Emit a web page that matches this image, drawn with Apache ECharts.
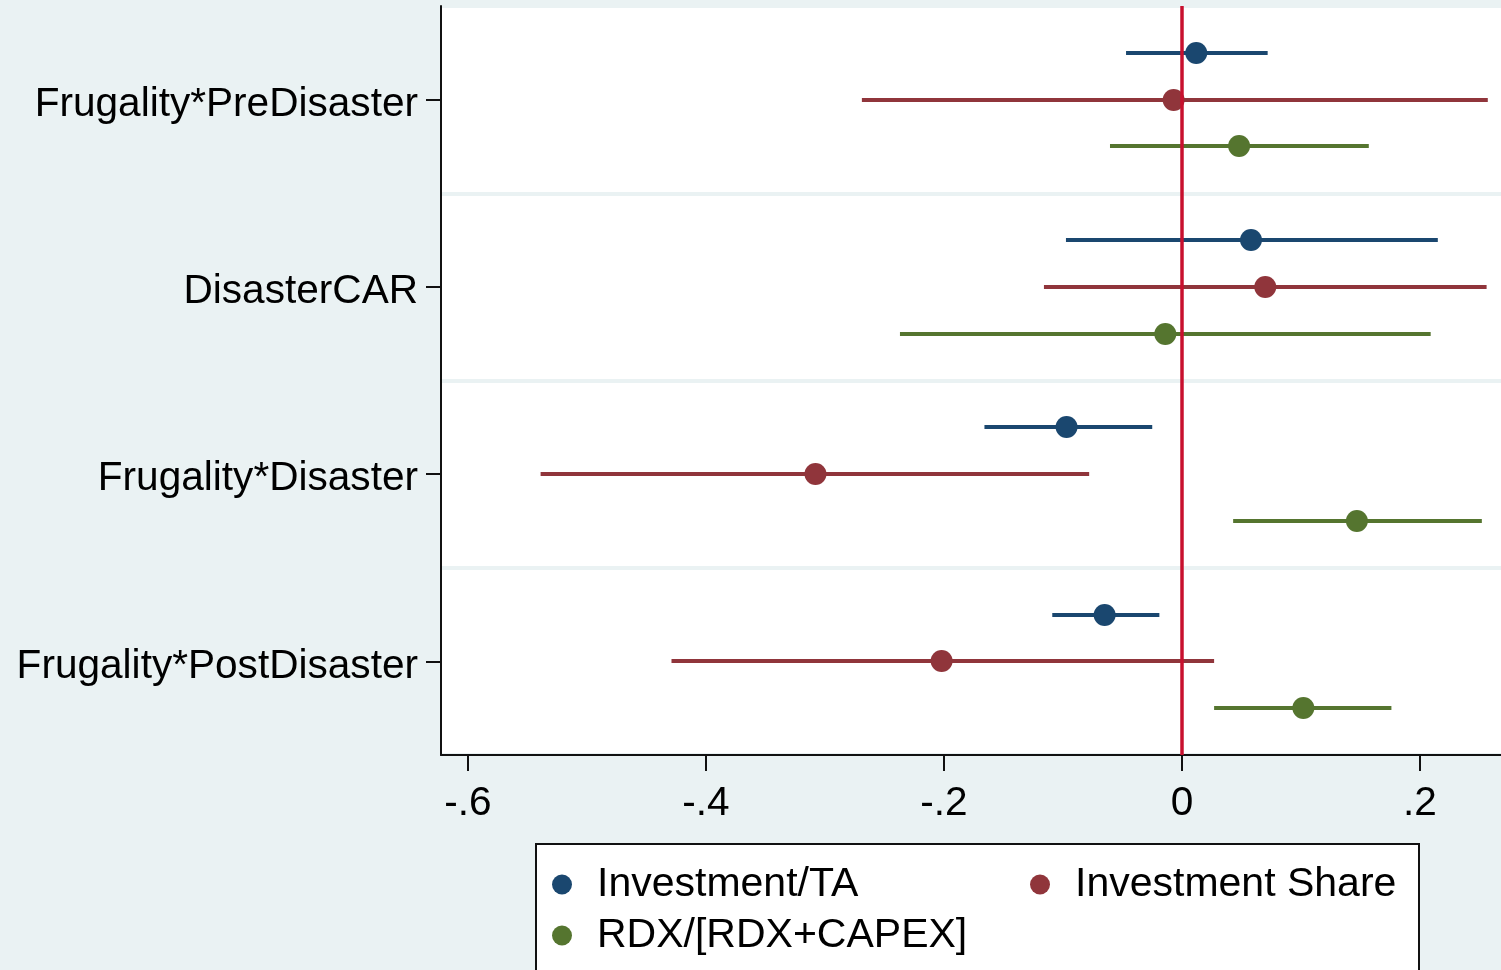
<!DOCTYPE html>
<html>
<head>
<meta charset="utf-8">
<title>Coefficient plot</title>
<script src="https://cdn.jsdelivr.net/npm/echarts@6/dist/echarts.min.js"></script>
<style>
  html, body { margin: 0; padding: 0; background: #EAF2F3; }
  #chart { width: 1501px; height: 970px; }
</style>
</head>
<body>
<div id="chart"></div>
<script>
// Regressors shown on the vertical axis (top to bottom)
const categories = ['Frugality*PreDisaster', 'DisasterCAR', 'Frugality*Disaster', 'Frugality*PostDisaster'];

// Outcome models
const seriesNames = ['Investment/TA', 'Investment Share', 'RDX/[RDX+CAPEX]'];
const seriesColors = ['#1A476F', '#90353B', '#55752F'];

// Point estimates and confidence bounds, one entry per regressor
const investTA_est = [0.012, 0.058, -0.097, -0.065];
const investTA_lo  = [-0.047, -0.0975, -0.166, -0.109];
const investTA_hi  = [0.072, 0.215, -0.025, -0.019];

const investShare_est = [-0.007, 0.070, -0.308, -0.202];
const investShare_lo  = [-0.269, -0.116, -0.539, -0.429];
const investShare_hi  = [0.257, 0.256, -0.078, 0.027];

const rdx_est = [0.048, -0.014, 0.147, 0.102];
const rdx_lo  = [-0.0605, -0.237, 0.043, 0.027];
const rdx_hi  = [0.157, 0.209, 0.252, 0.176];

// Horizontal axis tick values
const xTicks = [-0.6, -0.4, -0.2, 0, 0.2];

// Position of the vertical reference line
const refLineX = [0];

const FONT = '"Liberation Sans", Arial, Helvetica, sans-serif';

function fmtTick(v) {
  const r = Math.round(v * 10) / 10;
  if (r === 0) return '0';
  return (r < 0 ? '-' : '') + String(Math.abs(r)).replace(/^0/, '');
}

function buildData(est, lo, hi) {
  return categories.map((c, i) => [lo[i], hi[i], est[i], i]);
}

// Vertical offset of each model within a category band (fraction of band)
const bandOffsets = [-0.25, 0, 0.25];

function makeSeries(idx, est, lo, hi) {
  const color = seriesColors[idx];
  const offset = bandOffsets[idx];
  return {
    type: 'custom',
    name: seriesNames[idx],
    itemStyle: { color: color },
    encode: { x: [0, 1, 2], y: 3 },
    z: 3,
    renderItem: function (params, api) {
      const cat = api.value(3);
      const band = api.size([0, 1])[1];
      const pLo = api.coord([api.value(0), cat]);
      const pHi = api.coord([api.value(1), cat]);
      const pEst = api.coord([api.value(2), cat]);
      const y = Math.round(pEst[1] + offset * band);
      return {
        type: 'group',
        children: [
          {
            type: 'line',
            shape: { x1: pLo[0], y1: y, x2: pHi[0], y2: y },
            style: { stroke: color, lineWidth: 4 }
          },
          {
            type: 'circle',
            shape: { cx: pEst[0], cy: y, r: 11 },
            style: { fill: color }
          }
        ]
      };
    },
    data: buildData(est, lo, hi)
  };
}

const chart = echarts.init(document.getElementById('chart'), null, { renderer: 'canvas' });

const legendCommon = {
  icon: 'circle',
  itemWidth: 20,
  itemHeight: 20,
  padding: 0,
  selectedMode: false,
  textStyle: { fontFamily: FONT, fontSize: 41, color: '#000', lineHeight: 40, padding: [0, 0, 0, 20] }
};

const series = [
  makeSeries(0, investTA_est, investTA_lo, investTA_hi),
  makeSeries(1, investShare_est, investShare_lo, investShare_hi),
  makeSeries(2, rdx_est, rdx_lo, rdx_hi),
  {
    // vertical reference line, drawn beneath the estimates
    type: 'line',
    name: 'reference',
    data: [],
    z: 2,
    markLine: {
      silent: true,
      symbol: ['none', 'none'],
      label: { show: false },
      lineStyle: { color: '#C8102E', width: 3.5, type: 'solid' },
      data: refLineX.map(v => ({ xAxis: v }))
    }
  }
];

const option = {
  animation: false,
  backgroundColor: '#EAF2F3',
  grid: {
    left: 441, top: 6, right: 0, bottom: 215,
    show: true, backgroundColor: '#FFFFFF', borderWidth: 0
  },
  xAxis: {
    type: 'value',
    min: -0.6227,
    max: 0.2681,
    axisLine: { show: true, onZero: false, lineStyle: { color: '#111', width: 2 } },
    axisTick: { show: true, length: 16, lineStyle: { color: '#111', width: 2 }, customValues: xTicks },
    axisLabel: {
      customValues: xTicks,
      formatter: fmtTick,
      fontFamily: FONT, fontSize: 40.6, color: '#000', margin: 28
    },
    splitLine: { show: false }
  },
  yAxis: {
    type: 'category',
    data: categories,
    inverse: true,
    boundaryGap: true,
    axisLine: { show: true, onZero: false, lineStyle: { color: '#111', width: 2 } },
    axisTick: { show: true, alignWithLabel: true, length: 15, lineStyle: { color: '#111', width: 2 } },
    axisLabel: {
      fontFamily: FONT, fontSize: 40.6, color: '#000', margin: 23,
      verticalAlign: 'top', lineHeight: 10
    },
    splitLine: { show: true, lineStyle: { color: '#EAF2F3', width: 4 } }
  },
  legend: [
    Object.assign({}, legendCommon, { data: [seriesNames[0]], left: 552, top: 864 }),
    Object.assign({}, legendCommon, { data: [seriesNames[1]], left: 1030, top: 864 }),
    Object.assign({}, legendCommon, { data: [seriesNames[2]], left: 552, top: 915 })
  ],
  graphic: [
    {
      type: 'rect',
      z: -1,
      shape: { x: 536, y: 844, width: 883, height: 140 },
      style: { fill: '#FFFFFF', stroke: '#111', lineWidth: 2 }
    }
  ],
  series: series
};

chart.setOption(option);
</script>
</body>
</html>
